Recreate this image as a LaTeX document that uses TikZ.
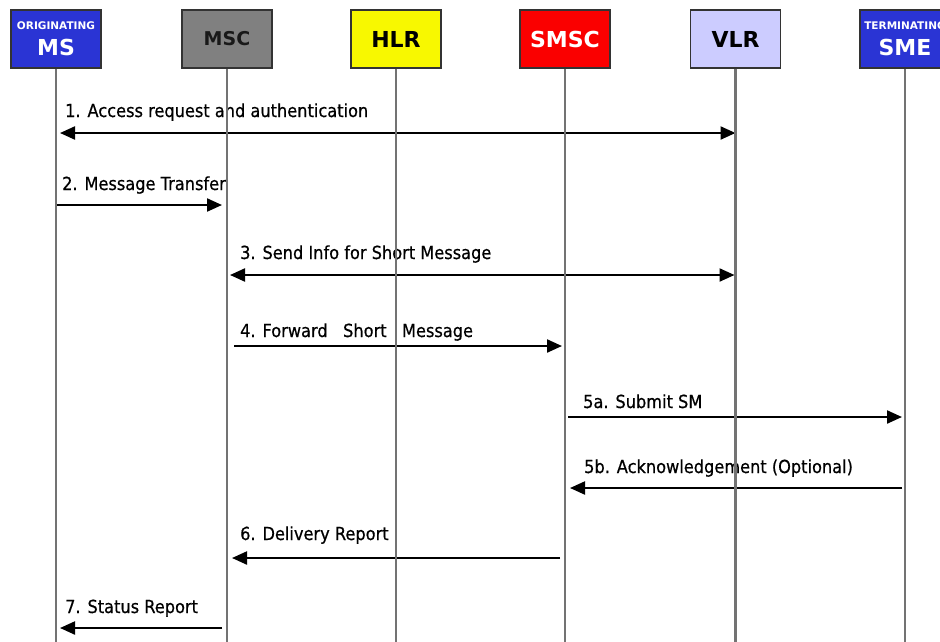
\documentclass[tikz,border=0pt]{standalone}
\usepackage{fontspec}
\setmainfont{DejaVu Sans}
\newfontfamily\msgfont[FakeStretch=0.9,FakeBold=0.6]{DejaVu Sans}
\usetikzlibrary{arrows.meta}
\definecolor{msblue}{RGB}{42,52,212}
\definecolor{mscgrey}{RGB}{128,128,128}
\definecolor{hlryellow}{RGB}{248,248,0}
\definecolor{smscred}{RGB}{250,0,0}
\definecolor{vlrlilac}{RGB}{204,204,255}
\definecolor{lifegrey}{RGB}{115,115,115}
\begin{document}
\begin{tikzpicture}[x=1pt,y=-1pt,
  entity/.style={draw=black!80, line width=1.3pt, minimum width=90pt, minimum height=58pt,
    inner sep=0pt, font=\bfseries\fontsize{22}{22}\selectfont},
  subtitle/.style={font=\bfseries\fontsize{10.5}{10.5}\selectfont, text=white, inner sep=0pt, anchor=base},
  bigtitle/.style={font=\bfseries\fontsize{22}{22}\selectfont, text=white, inner sep=0pt, anchor=base},
  life/.style={draw=lifegrey, line width=2.4pt},
  msg/.style={line width=2.2pt, -{Triangle[length=15pt,width=13pt]}},
  both/.style={line width=2.2pt, {Triangle[length=15pt,width=13pt]}-{Triangle[length=15pt,width=13pt]}},
  lbl/.style={anchor=base west, inner sep=0pt, font=\msgfont\fontsize{18}{18}\selectfont}]

\useasboundingbox (0,0) rectangle (940,641);
\clip (0,0) rectangle (940,641);

% entity boxes
\node[entity, fill=msblue] (ms) at (56,39) {};
\node[subtitle] (msT) at (56,29.5) {ORIGINATING};
\node[bigtitle] (msN) at (56,55) {MS};
\node[entity, fill=mscgrey, text=black!90, font=\bfseries\fontsize{19}{19}\selectfont] (msc) at (227,39) {MSC};
\node[entity, fill=hlryellow] (hlr) at (396,39) {HLR};
\node[entity, fill=smscred, text=white] (smsc) at (565,39) {SMSC};
\node[entity, fill=vlrlilac] (vlr) at (735.5,39) {VLR};
\node[entity, fill=msblue] (sme) at (905,39) {};
\node[subtitle] (smeT) at (905,29.5) {TERMINATING};
\node[bigtitle] (smeN) at (905,55) {SME};

% message end points on the lifelines
\path (ms |- 0,133) coordinate (p1a) (vlr |- 0,133) coordinate (p1b)
      (ms |- 0,205) coordinate (p2a) (msc |- 0,205) coordinate (p2b)
      (msc |- 0,275) coordinate (p3a) (vlr |- 0,275) coordinate (p3b)
      (msc |- 0,346) coordinate (p4a) (smsc |- 0,346) coordinate (p4b)
      (smsc |- 0,417) coordinate (p5a) (sme |- 0,417) coordinate (p5b)
      (sme |- 0,488) coordinate (p6a) (smsc |- 0,488) coordinate (p6b)
      (smsc |- 0,558) coordinate (p7a) (msc |- 0,558) coordinate (p7b)
      (msc |- 0,628) coordinate (p8a) (ms |- 0,628) coordinate (p8b);

% messages
\draw[both, shorten <=4pt] (p1a) -- (p1b);
\draw[msg, shorten >=5pt] (p2a) -- (p2b);
\draw[both, shorten <=3pt, shorten >=1pt] (p3a) -- (p3b);
\draw[msg, shorten <=7pt, shorten >=3pt] (p4a) -- (p4b);
\draw[msg, shorten <=3pt, shorten >=3pt] (p5a) -- (p5b);
\draw[msg, shorten <=3pt, shorten >=5pt] (p6a) -- (p6b);
\draw[msg, shorten <=5pt, shorten >=5pt] (p7a) -- (p7b);
\draw[msg, shorten <=5pt, shorten >=4pt] (p8a) -- (p8b);

% message labels
\node[lbl] (l1) at (65,117) {1. Access request and authentication};
\node[lbl] (l2) at (62,190) {2. Message Transfer};
\node[lbl] (l3) at (240,259) {3. Send Info for Short Message};
\node[lbl] (l4) at (240,337) {4. Forward\ \ \ Short\ \ \ Message};
\node[lbl] (l5) at (583,408) {5a. Submit SM};
\node[lbl] (l6) at (584,473) {5b. Acknowledgement (Optional)};
\node[lbl] (l7) at (240,540) {6. Delivery Report};
\node[lbl] (l8) at (65,613) {7. Status Report};

% lifelines, drawn over the messages
\foreach \n in {ms,msc,hlr,smsc,vlr,sme}{
  \coordinate (\n-end) at (\n.south |- 0,645);
  \draw[life] (\n.south) -- (\n-end);
}
\end{tikzpicture}
\end{document}
